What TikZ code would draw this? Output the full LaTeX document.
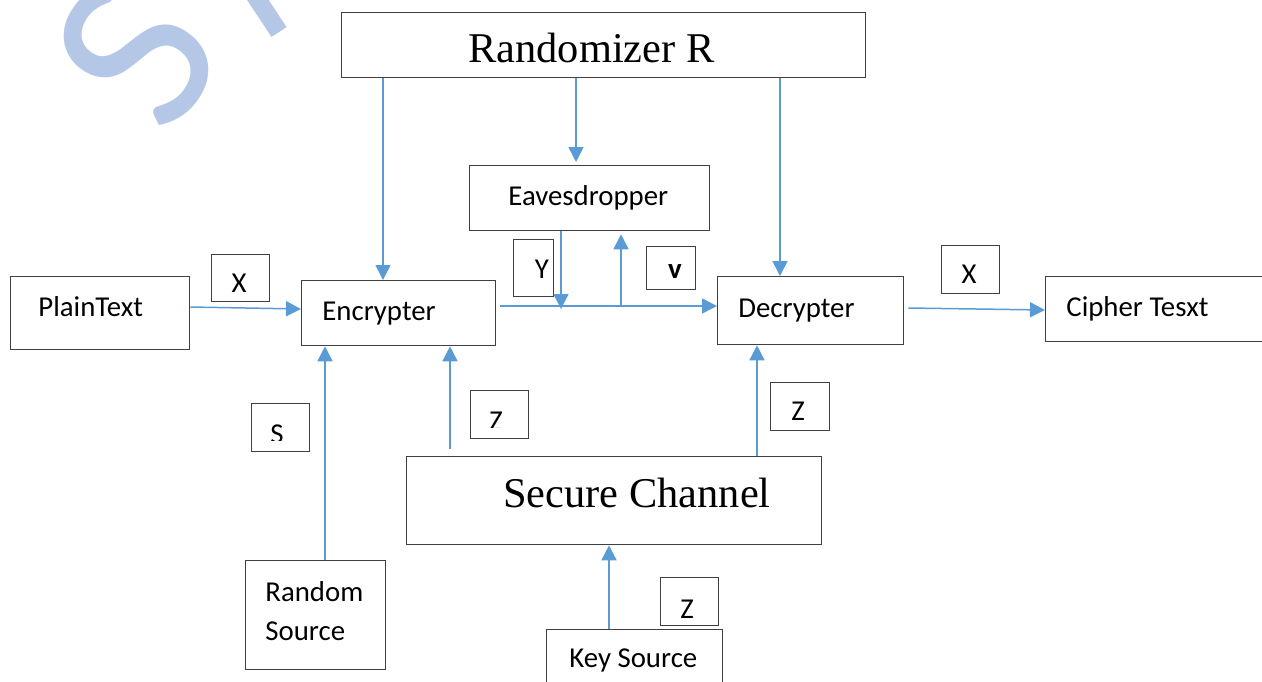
\documentclass[tikz,border=0pt]{standalone}
\usepackage{fontspec}
\setmainfont{Carlito}
\newfontfamily\serifft{Liberation Serif}
\usetikzlibrary{arrows.meta,calc}
\definecolor{arrblue}{HTML}{5B9BD5}
\definecolor{wmblue}{HTML}{B4C7E7}
\definecolor{boxline}{HTML}{404040}
\begin{document}
\begin{tikzpicture}[x=0.5pt,y=-0.5pt,
  box/.style={draw=boxline,line width=0.65pt,inner sep=0pt,anchor=north west},
  txt/.style={anchor=base west,inner sep=0pt,font=\fontsize{14.4}{17}\selectfont},
  lbl/.style={anchor=center,inner sep=0pt,font=\fontsize{14.4}{17}\selectfont},
  big/.style={anchor=base west,inner sep=0pt,font=\serifft\fontsize{21.2}{25}\selectfont},
  arr/.style={draw=arrblue,line width=0.75pt,-{Triangle[length=7.5pt,width=7.5pt]}}]
\useasboundingbox (0,0) rectangle (1262,681);
% watermark
\node[text=wmblue,rotate=58,inner sep=0pt,font=\fontsize{118}{120}\selectfont] (wmS) at (136,54) {S};
\draw[wmblue,line width=9pt] (248,-15) -- (279,32);
% boxes
\node[box,minimum width=262pt,minimum height=32.5pt] (rand) at (341,12) {};
\node[box,minimum width=120pt,minimum height=32.5pt] (eav) at (469,165) {};
\node[box,minimum width=20pt,minimum height=28.5pt] (ybox) at (513,239) {};
\node[box,minimum width=24.5pt,minimum height=21.5pt] (vbox) at (646,246) {};
\node[box,minimum width=89.5pt,minimum height=36.5pt] (plain) at (10,276) {};
\node[box,minimum width=29pt,minimum height=23.5pt] (xa) at (211,254) {};
\node[box,minimum width=97pt,minimum height=32.5pt] (enc) at (301,280) {};
\node[box,minimum width=93pt,minimum height=34pt] (dec) at (717,276) {};
\node[box,minimum width=29pt,minimum height=24pt] (xb) at (941,245) {};
\node[box,minimum width=130pt,minimum height=32.5pt] (ciph) at (1045,276) {};
\node[box,minimum width=29pt,minimum height=24pt] (sbox) at (251,403) {};
\node[box,minimum width=29pt,minimum height=24pt] (za) at (470,390) {};
\node[box,minimum width=29.5pt,minimum height=24pt] (zb) at (770,382) {};
\node[box,minimum width=207.5pt,minimum height=44pt] (sec) at (406,456) {};
\node[box,minimum width=70pt,minimum height=54.5pt] (rsrc) at (245,560) {};
\node[box,minimum width=88pt,minimum height=35pt] (key) at (546,629) {};
\node[box,minimum width=29pt,minimum height=24pt] (zc) at (660,577) {};
% texts
\node[big] (randT) at (468,62) {Randomizer R};
\node[big] (secT) at (503,507) {Secure Channel};
\node[txt] (eavT) at (508,205) {Eavesdropper};
\node[txt] (plainT) at (38,316) {PlainText};
\node[txt] (encT) at (322,320) {Encrypter};
\node[txt] (decT) at (738,317) {Decrypter};
\node[txt] (ciphT) at (1066,316) {Cipher Tesxt};
\node[txt] (rsrcT1) at (265,601) {Random};
\node[txt] (rsrcT2) at (265,640) {Source};
\node[txt] (keyT) at (569,667) {Key Source};
\node[lbl] (yT) at (542,269) {Y};
\node[lbl,font=\bfseries\fontsize{14.4}{17}\selectfont] (vT) at (675,272) {v};
\node[lbl] (xaT) at (239,283) {X};
\node[lbl] (xbT) at (969,274) {X};
\node[lbl] (zbT) at (798,411) {Z};
\node[lbl] (zcT) at (687,609) {Z};
\begin{scope}
\clip (251,403) rectangle (309,440);
\node[lbl] (sT) at (277,434) {S};
\end{scope}
\begin{scope}
\clip (470,390) rectangle (528,427);
\node[lbl] (zaT) at (496,421) {Z};
\end{scope}
% helper x positions
\coordinate (c383) at (383,0);
\coordinate (c576) at (576,0);
\coordinate (c780) at (780,0);
\coordinate (c561) at (561,0);
\coordinate (c621) at (621,0);
\coordinate (c325) at (325,0);
\coordinate (c450) at (450,0);
\coordinate (c757) at (757,0);
\coordinate (c609) at (609,0);
\coordinate (j1) at (561,309);
\coordinate (j2) at (621,306);
% connectors
\draw[arr] (rand.south -| c383) -- (enc.north -| c383);
\draw[arr] (rand.south -| c576) -- ($(eav.north -| c576)+(0,-3)$);
\draw[arr] (rand.south -| c780) -- (dec.north -| c780);
\draw[arr] ($(plain.north east)+(0,31)$) -- ($(enc.north west)+(0,29)$);
\draw[arr] ($(enc.north east)+(4,26)$) -- ($(dec.north west)+(0,30)$);
\draw[arr] (eav.south -| c561) -- (j1);
\draw[arr] (j2) -- ($(eav.south -| c621)+(0,3)$);
\draw[arr] ($(dec.north east)+(4,32)$) -- ($(ciph.north west)+(0,34)$);
\draw[arr] (rsrc.north -| c325) -- (enc.south -| c325);
\draw[arr] ($(sec.north -| c450)+(0,-7)$) -- (enc.south -| c450);
\draw[arr] (sec.north -| c757) -- (dec.south -| c757);
\draw[arr] (key.north -| c609) -- (sec.south -| c609);
\end{tikzpicture}
\end{document}
